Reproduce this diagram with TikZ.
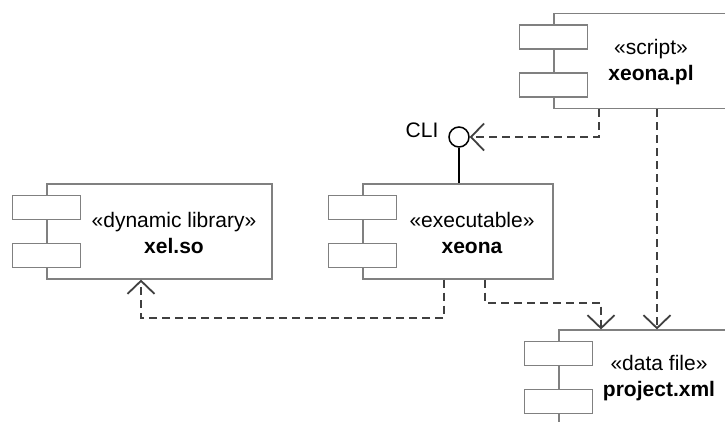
\documentclass[tikz,border=0pt]{standalone}
\usepackage{fontspec}
\setmainfont{Liberation Sans}
\usetikzlibrary{arrows.meta}

\begin{document}
\begin{tikzpicture}[x=1pt,y=-1pt,
    comp/.style={draw=black!50,line width=1.2pt,minimum width=#1,minimum height=95pt,inner sep=0pt},
    tab/.style={draw=black!50,line width=1.2pt,fill=white,minimum width=68pt,minimum height=24pt,inner sep=0pt},
    dep/.style={draw=black!75,line width=1.8pt,dash pattern=on 8pt off 5pt,
      -{Straight Barb[length=13pt,width=27pt]}},
    lbl/.style={font=\fontsize{21}{26}\selectfont,align=center,inner sep=0pt}]
  \useasboundingbox (0,0) rectangle (725,421);
  \clip (0,0) rectangle (725,421);
  \fill[white] (0,0) rectangle (725,421);

  % components
  \node[comp=225pt] (xel) at (159.5,231.5) {};
  \node[comp=190pt] (exe) at (458,231.5) {};
  \node[comp=260pt] (scr) at (684,61) {};
  \node[comp=240pt] (dat) at (679,377.5) {};
  % routine for tabs
  \foreach \c in {xel,exe,scr,dat} {
    \node[tab] (\c-a) at ([yshift=24pt]\c.west) {};
    \node[tab] (\c-b) at ([yshift=-24pt]\c.west) {};
  }
  \node[lbl] (xel-t) at (174,232.5) {«dynamic library»\\\textbf{xel.so}};
  \node[lbl] (exe-t) at (472,232.5) {«executable»\\\textbf{xeona}};
  \node[lbl] (scr-t) at (651,62.5) {«script»\\\textbf{xeona.pl}};
  \node[lbl] (dat-t) at (659,378.5) {«data file»\\\textbf{project.xml}};

  % interface
  \node[draw,circle,line width=1.5pt,minimum size=20pt,inner sep=0pt] (cli) at (459,137) {};
  \node[lbl] (cli-t) at (422,130) {CLI};
  \draw[line width=1.5pt] (cli) -- (cli |- exe.north);

  % dependencies
  \draw[dep] ([xshift=-85pt]scr.south) |- (cli.east);
  \draw[dep] ([xshift=-27pt]scr.south) -- ([xshift=-22pt]dat.north);
  \draw[dep] ([xshift=27pt]exe.south) -- ++(0,23) -| ([xshift=-78pt]dat.north);
  \draw[dep] ([xshift=-14pt]exe.south) -- ++(0,38) -| ([xshift=-18.5pt]xel.south);
\end{tikzpicture}
\end{document}
